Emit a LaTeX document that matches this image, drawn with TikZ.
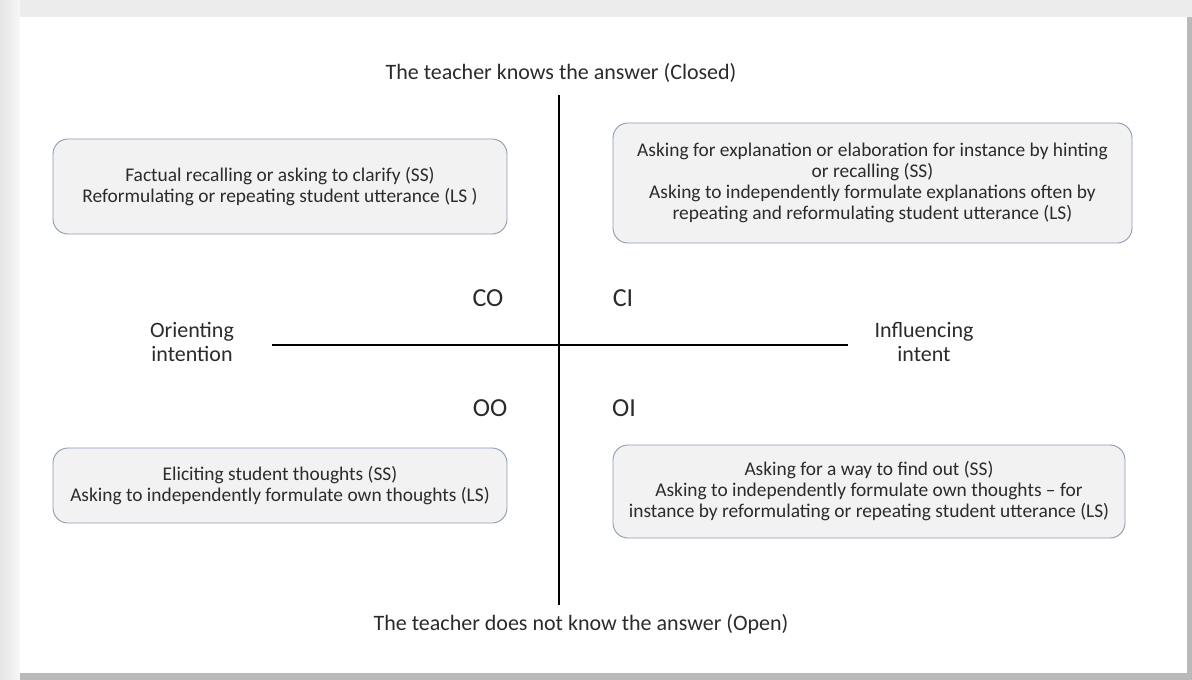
\documentclass[tikz,border=0pt]{standalone}
\usepackage{fontspec}
\setmainfont{Carlito}
\definecolor{boxfill}{HTML}{F2F2F2}
\definecolor{boxline}{HTML}{8A9AB2}
\definecolor{txt}{HTML}{2B2B2B}
\begin{document}
\begin{tikzpicture}[x=1pt,y=-1pt,
  qbox/.style={draw=boxline, line width=0.9pt, fill=boxfill, rounded corners=15pt, align=center, font=\fontsize{19.4}{21}\selectfont, text=txt, inner sep=0pt},
  axislabel/.style={font=\fontsize{22}{24}\selectfont, text=txt, align=center},
  quad/.style={font=\fontsize{26}{28}\selectfont, text=txt},
  axis/.style={line width=2.8pt, black}]
\useasboundingbox (0,0) rectangle (1192,680);
% frame with shadow
\fill[gray!15] (0,0) rectangle (1192,680);
\shade[left color=gray!20, right color=gray!6] (0,0) rectangle (20,680);
\fill[gray!55] (20,673) rectangle (1192,680);
\fill[gray!55] (1187,17) rectangle (1192,680);
\fill[white] (20,17) rectangle (1187,673);
% axes
\coordinate (vtop) at (559,95);
\coordinate (vbot) at (559,605);
\coordinate (hl) at (272,345);
\coordinate (hr) at (848,345);
\draw[axis] (vtop) -- (vbot);
\draw[axis] (hl) -- (hr);
% labels
\node[axislabel] (top) at (561,73) {The teacher knows the answer (Closed)};
\node[axislabel] (bot) at (581,624) {The teacher does not know the answer (Open)};
\node[axislabel] (left) at (192,342) {Orienting\\intention};
\node[axislabel] (right) at (924,342) {Influencing\\intent};
\node[quad] (co) at (488,298) {CO};
\node[quad] (ci) at (623,298) {CI};
\node[quad] (oo) at (490,408) {OO};
\node[quad] (oi) at (624,408) {OI};
% boxes
\node[qbox, minimum width=454pt, minimum height=95pt] (btl) at (280,186.5) {Factual recalling or asking to clarify (SS)\\Reformulating or repeating student utterance (LS )};
\node[qbox, minimum width=519pt, minimum height=120pt] (btr) at (872.5,183) {Asking for explanation or elaboration for instance by hinting\\or recalling (SS)\\Asking to independently formulate explanations often by\\repeating and reformulating student utterance (LS)};
\node[qbox, minimum width=454pt, minimum height=75pt] (bbl) at (280,485.5) {Eliciting student thoughts (SS)\\Asking to independently formulate own thoughts (LS)};
\node[qbox, minimum width=512pt, minimum height=93pt] (bbr) at (869,491.5) {Asking for a way to find out (SS)\\Asking to independently formulate own thoughts -- for\\instance by reformulating or repeating student utterance (LS)};
\end{tikzpicture}
\end{document}
